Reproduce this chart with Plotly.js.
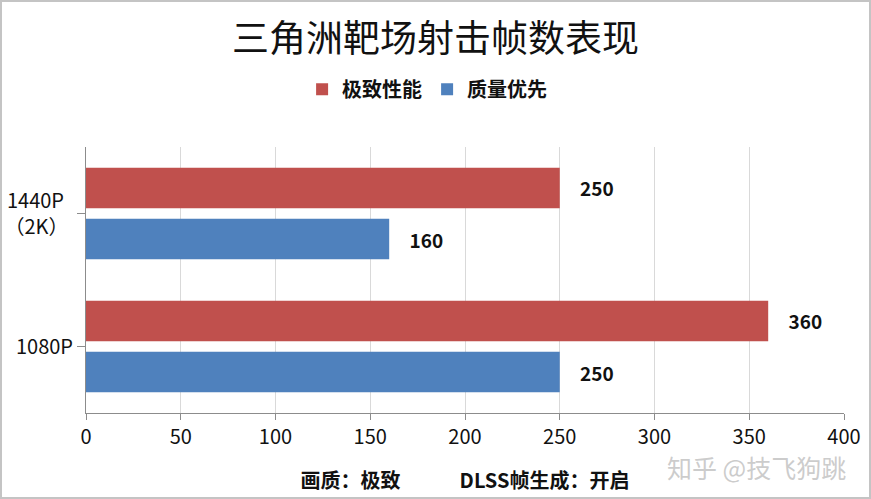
<!DOCTYPE html>
<html>
<head>
<meta charset="utf-8">
<script src="https://cdn.plot.ly/plotly-3.0.1.min.js"></script>
<style>
  html, body { margin: 0; padding: 0; background: #ffffff; }
  #wrap { position: relative; width: 871px; height: 499px; }
  #chart { width: 871px; height: 499px; }
  #frame {
    position: absolute; left: 0; top: 0; width: 871px; height: 499px;
    box-sizing: border-box; border: 2px solid #c4c4c4; pointer-events: none;
  }
</style>
</head>
<body>
<div id="wrap">
  <div id="chart"></div>
  <div id="frame"></div>
</div>
<script>
const FONT = "'Noto Sans CJK SC', 'Noto Sans', sans-serif";
const COLORS = {
  extreme: "#c0504d",
  quality: "#4f81bd",
  grid: "#d9d9d9",
  axis: "#8c8c8c",
  text: "#111111",
};

// data
const categories = ["1440P\u00a0\u00a0<br>（2K）\u00a0", "1080P"];
const seriesNames = ["极致性能", "质量优先"];
const extremeValues = [250, 360];
const qualityValues = [160, 250];
const xTickValues = [0, 50, 100, 150, 200, 250, 300, 350, 400];
const chartTitle = "三角洲靶场射击帧数表现";
const xTitle = "画质：极致" + "\u00a0".repeat(13) + "DLSS帧生成：开启";
const watermark = "知乎 @技飞狗跳";

function barTrace(name, values, color) {
  return {
    type: "bar",
    orientation: "h",
    name,
    y: categories,
    x: values,
    marker: { color },
    texttemplate: "\u00a0\u00a0\u00a0\u00a0%{x}",
    textposition: "outside",
    textfont: { family: FONT, size: 19, color: COLORS.text, weight: "bold" },
    cliponaxis: false,
    hoverinfo: "x+name",
  };
}

const traces = [
  barTrace(seriesNames[0], extremeValues, COLORS.extreme),
  barTrace(seriesNames[1], qualityValues, COLORS.quality),
];

const layout = {
  width: 871,
  height: 499,
  margin: { l: 86, r: 27, t: 147, b: 86 },
  paper_bgcolor: "#ffffff",
  plot_bgcolor: "#ffffff",
  font: { family: FONT, color: COLORS.text, size: 20 },
  showlegend: true,
  title: {
    text: chartTitle,
    x: 0.5,
    xref: "container",
    xanchor: "center",
    y: 0.922,
    yref: "container",
    yanchor: "middle",
    font: { family: FONT, size: 37, color: COLORS.text },
  },
  legend: {
    orientation: "h",
    x: 0.45,
    xanchor: "center",
    y: 1.217,
    yanchor: "middle",
    traceorder: "normal",
    itemwidth: 30,
    font: { family: FONT, size: 20, weight: "bold", color: COLORS.text },
    bgcolor: "rgba(0,0,0,0)",
  },
  bargap: 0.233,
  bargroupgap: 0.207,
  barmode: "group",
  xaxis: {
    range: [0, 400],
    tickvals: xTickValues,
    showgrid: true,
    gridcolor: COLORS.grid,
    gridwidth: 1,
    zeroline: false,
    showline: true,
    linecolor: COLORS.axis,
    linewidth: 1,
    ticks: "outside",
    ticklen: 6,
    tickcolor: COLORS.axis,
    tickfont: { family: FONT, size: 20, color: COLORS.text },
    title: {
      text: xTitle,
      standoff: 24,
      font: { family: FONT, size: 20, weight: "bold", color: COLORS.text },
    },
    fixedrange: true,
  },
  yaxis: {
    type: "category",
    autorange: "reversed",
    showgrid: false,
    zeroline: false,
    showline: true,
    linecolor: COLORS.axis,
    linewidth: 1,
    ticks: "outside",
    ticklen: 8,
    tickcolor: COLORS.axis,
    tickfont: { family: FONT, size: 20, color: COLORS.text },
    fixedrange: true,
  },
  annotations: [
    {
      text: watermark,
      xref: "paper",
      yref: "paper",
      x: 0.884,
      y: -0.202,
      xanchor: "center",
      yanchor: "middle",
      showarrow: false,
      font: { family: FONT, size: 25, color: "rgba(195,195,195,0.85)" },
    },
  ],
};

Plotly.newPlot("chart", traces, layout, { displayModeBar: false, staticPlot: true });
</script>
</body>
</html>
